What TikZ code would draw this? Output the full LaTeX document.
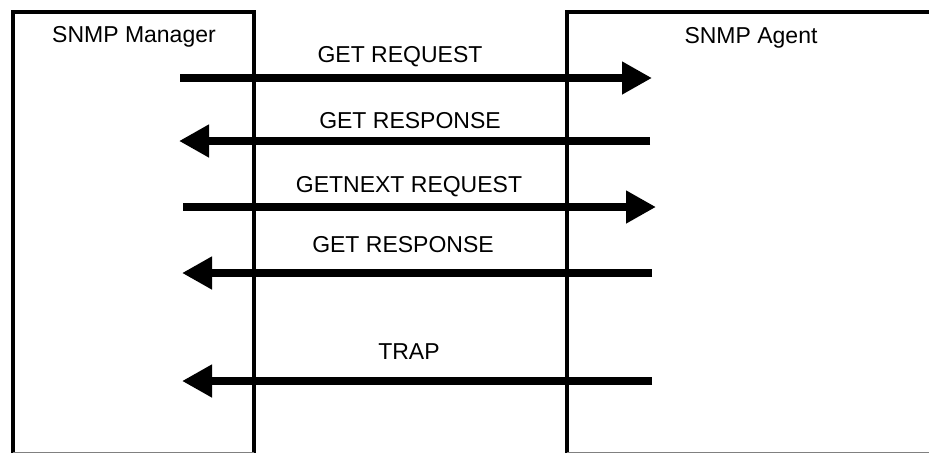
\documentclass[tikz,border=0pt]{standalone}
\usepackage{fontspec}
\setmainfont{Liberation Sans}
\usepackage{xcolor}
\usetikzlibrary{arrows.meta}
\definecolor{ink}{HTML}{000000}
\definecolor{edge}{HTML}{808080}
\tikzset{
  box/.style={draw=ink, line width=4pt},
  boxfoot/.style={draw=edge, line width=1pt},
  msg/.style={draw=ink, line width=8.5pt, -{Triangle[length=30pt,width=31pt]}},
  lab/.style={text=ink, font=\fontsize{23}{27}\selectfont, text height=17pt, text depth=0pt, inner sep=0pt}
}
\begin{document}
\begin{tikzpicture}[x=1pt, y=-1pt]
  \useasboundingbox (0,0) rectangle (929,453);

  % the two parties
  \draw[box] (13,453) -- (13,12) -- (254,12) -- (254,453);
  \draw[boxfoot] (13,452) -- (254,452);
  \draw[box] (567,453) -- (567,12) -- (929,12);
  \draw[boxfoot] (567,452) -- (929,452);

  \node[lab] (mgr) at (134,34) {SNMP Manager};
  \node[lab] (agt) at (751,35) {SNMP Agent};

  % message end points
  \coordinate (m1) at (180,78);  \coordinate (a1) at (652,78);
  \coordinate (m2) at (179,141); \coordinate (a2) at (650,141);
  \coordinate (m3) at (183,207); \coordinate (a3) at (656,207);
  \coordinate (m4) at (182,273); \coordinate (a4) at (652,273);
  \coordinate (m5) at (182,381); \coordinate (a5) at (652,381);

  \draw[msg] (m1) -- (a1);
  \draw[msg] (a2) -- (m2);
  \draw[msg] (m3) -- (a3);
  \draw[msg] (a4) -- (m4);
  \draw[msg] (a5) -- (m5);

  \node[lab] (getreq) at (400,54) {GET REQUEST};
  \node[lab] (getresp) at (410,120) {GET RESPONSE};
  \node[lab] (nextreq) at (409,184) {GETNEXT REQUEST};
  \node[lab] (nextresp) at (403,244) {GET RESPONSE};
  \node[lab] (trap) at (409,351) {TRAP};
\end{tikzpicture}
\end{document}
